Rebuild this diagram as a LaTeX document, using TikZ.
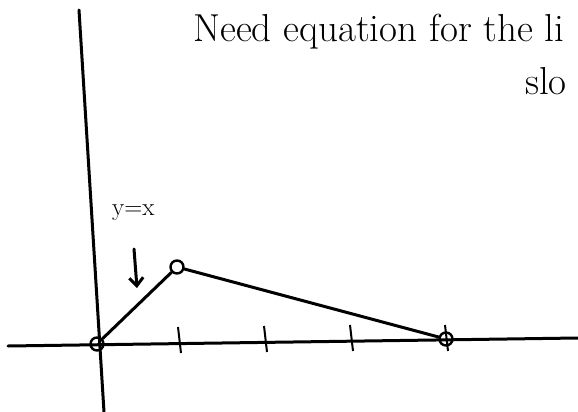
\documentclass[tikz,border=0pt]{standalone}
\usetikzlibrary{arrows.meta}

\begin{document}
\begin{tikzpicture}[
    x=1pt, y=-1pt,
    >=Stealth,
    hand/.style={line width=3pt, line cap=round, line join=round},
    dot/.style={draw, circle, line width=2.4pt, minimum size=13pt, inner sep=0pt},
    note/.style={anchor=base west, inner sep=0pt, font=\fontsize{39}{42}\selectfont}
]
    \useasboundingbox (0,0) rectangle (578,412);

    % Axes
    \coordinate (xl) at (8,346);
    \coordinate (xr) at (578,338);
    \coordinate (yt) at (79,10);
    \coordinate (yb) at (104,412);
    \draw[hand] (xl) -- (xr);
    \draw[hand] (yt) -- (yb);

    % Tick marks
    \foreach \x/\y in {178/327, 264/326, 350/325, 445/325}
      \draw[line width=2pt] (\x,\y) -- (\x+3,\y+26);

    % Points
    \node[dot] (O) at (97,344) {};
    \node[dot] (P) at (177,267) {};
    \node[dot] (E) at (446,339) {};

    % Graph
    \draw[hand] (O) -- (P);
    \draw[hand] (P) -- (E);

    % Label and arrow
    \node[anchor=base west, inner sep=0pt, font=\fontsize{25}{28}\selectfont] (lbl) at (112,215) {y=x};
    \coordinate (arT) at (134,249);
    \coordinate (arH) at (137,288);
    \draw[hand, -{Straight Barb[length=8pt, width=14pt]}] (arT) -- (arH);

    % Title
    \node[note] (title) at (193,42) {Need equation for the li};
    \node[note] (slope) at (525,94) {slo};
\end{tikzpicture}
\end{document}
